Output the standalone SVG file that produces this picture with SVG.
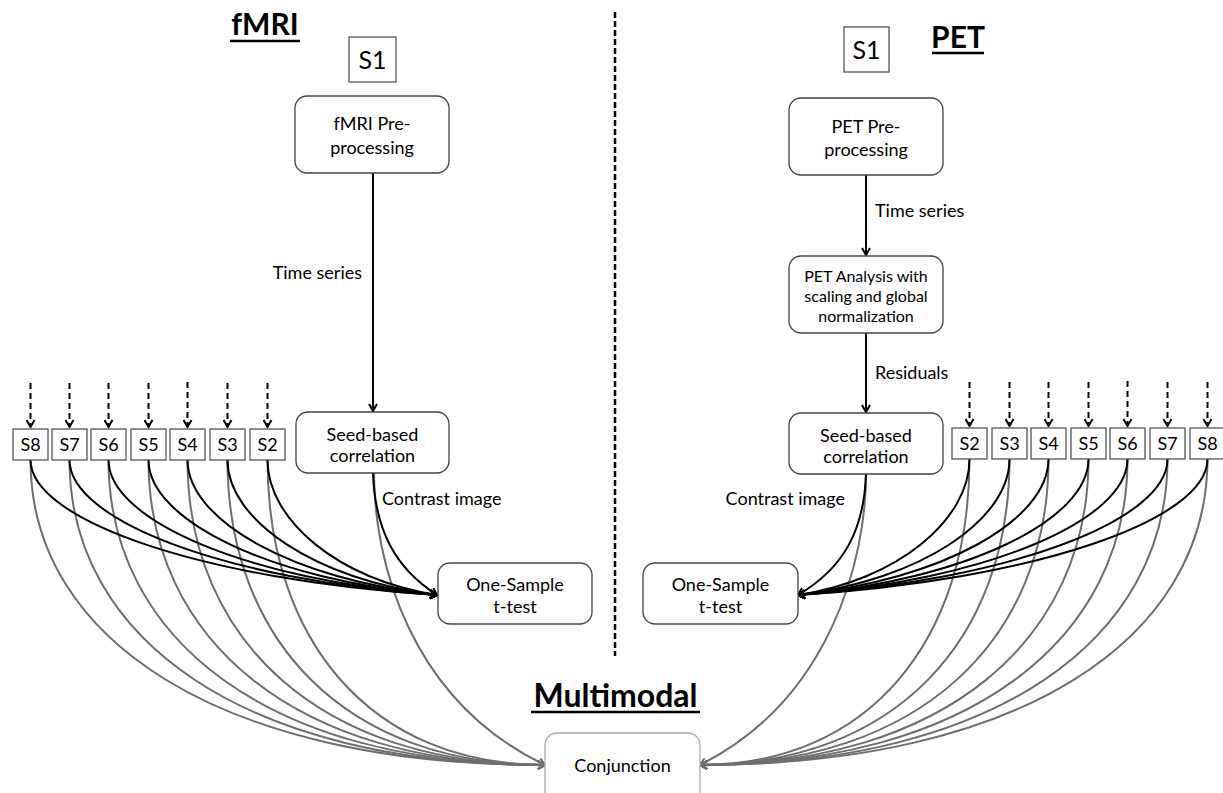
<svg xmlns="http://www.w3.org/2000/svg" width="1223" height="793" viewBox="0 0 1223 793">
<style>
text{font-family:Lato,"Open Sans","Liberation Sans",sans-serif;fill:#000}
.t{font-size:18px;text-anchor:middle}
.ts{font-size:16px;text-anchor:middle}
.lbl{font-size:18px}
.sub{font-size:18px;text-anchor:middle}
.big{font-size:25px;text-anchor:middle}
.title{font-weight:bold;text-anchor:middle}
.box{fill:#fff;stroke:#444;stroke-width:1.3}
.sq{fill:#fff;stroke:#555;stroke-width:1.3}
.blk{fill:none;stroke:#000;stroke-width:2}
.gry{fill:none;stroke:#6e6e6e;stroke-width:2}
.dsh{fill:none;stroke:#000;stroke-width:2;stroke-dasharray:6 4}
.ul{stroke:#000;stroke-width:2.5}
</style>
<defs>
<marker id="ab" viewBox="0 0 10 10" refX="9" refY="5" markerWidth="10" markerHeight="10" markerUnits="userSpaceOnUse" orient="auto"><path d="M2,1 L9,5 L2,9" fill="none" stroke="#000" stroke-width="2"/></marker>
<marker id="ag" viewBox="0 0 10 10" refX="9" refY="5" markerWidth="10" markerHeight="10" markerUnits="userSpaceOnUse" orient="auto"><path d="M2,1 L9,5 L2,9" fill="none" stroke="#6e6e6e" stroke-width="2"/></marker>
</defs>
<rect width="1223" height="793" fill="#fff"/>

<g id="titles">
<text class="title" x="265" y="35" font-size="30">fMRI</text>
<line class="ul" x1="230" y1="41" x2="300" y2="41"/>
<text class="title" x="958" y="48" font-size="30">PET</text>
<line class="ul" x1="932" y1="53" x2="984" y2="53"/>
<text class="title" x="615.5" y="707" font-size="32">Multimodal</text>
<line class="ul" x1="531" y1="712" x2="700" y2="712"/>
</g>

<line id="divider" x1="615" y1="12" x2="615" y2="656" stroke="#000" stroke-width="2.5" stroke-dasharray="6 3"/>

<g id="connectors">
<path class="gry" marker-end="url(#ag)" d="M30.5,460 C30.5,640 220.9,765 545,765"/>
<path class="gry" marker-end="url(#ag)" d="M69.5,460 C69.5,640 245.4,765 545,765"/>
<path class="gry" marker-end="url(#ag)" d="M108.5,460 C108.5,640 270,765 545,765"/>
<path class="gry" marker-end="url(#ag)" d="M148.5,460 C148.5,640 295.2,765 545,765"/>
<path class="gry" marker-end="url(#ag)" d="M187.5,460 C187.5,640 319.8,765 545,765"/>
<path class="gry" marker-end="url(#ag)" d="M227.5,460 C227.5,640 345,765 545,765"/>
<path class="gry" marker-end="url(#ag)" d="M267.5,460 C267.5,640 370.2,765 545,765"/>
<path class="gry" marker-end="url(#ag)" d="M374,473 C374,560 409,700 545,765"/>
<path class="gry" marker-end="url(#ag)" d="M969.5,459 C969.5,640 869.8,765 700,765"/>
<path class="gry" marker-end="url(#ag)" d="M1009.5,459 C1009.5,640 895,765 700,765"/>
<path class="gry" marker-end="url(#ag)" d="M1048.5,459 C1048.5,640 919.6,765 700,765"/>
<path class="gry" marker-end="url(#ag)" d="M1088.5,459 C1088.5,640 944.8,765 700,765"/>
<path class="gry" marker-end="url(#ag)" d="M1127.5,459 C1127.5,640 969.3,765 700,765"/>
<path class="gry" marker-end="url(#ag)" d="M1167.5,459 C1167.5,640 994.5,765 700,765"/>
<path class="gry" marker-end="url(#ag)" d="M1207.5,459 C1207.5,640 1019.7,765 700,765"/>
<path class="gry" marker-end="url(#ag)" d="M866,474 C866,560 830,700 700,765"/>
<path class="blk" marker-end="url(#ab)" d="M30.5,460 C30.5,520 201.2,580 437,595"/>
<path class="blk" marker-end="url(#ab)" d="M69.5,460 C69.5,520 223.9,580 437,595"/>
<path class="blk" marker-end="url(#ab)" d="M108.5,460 C108.5,520 246.5,580 437,595"/>
<path class="blk" marker-end="url(#ab)" d="M148.5,460 C148.5,520 269.7,580 437,595"/>
<path class="blk" marker-end="url(#ab)" d="M187.5,460 C187.5,520 292.3,580 437,595"/>
<path class="blk" marker-end="url(#ab)" d="M227.5,460 C227.5,520 315.5,580 437,595"/>
<path class="blk" marker-end="url(#ab)" d="M267.5,460 C267.5,520 338.7,580 437,595"/>
<path class="blk" marker-end="url(#ab)" d="M373,473 C375,530 395,568 437,595"/>
<path class="blk" marker-end="url(#ab)" d="M969.5,459 C969.5,520 897.5,580 798,595"/>
<path class="blk" marker-end="url(#ab)" d="M1009.5,459 C1009.5,520 920.7,580 798,595"/>
<path class="blk" marker-end="url(#ab)" d="M1048.5,459 C1048.5,520 943.3,580 798,595"/>
<path class="blk" marker-end="url(#ab)" d="M1088.5,459 C1088.5,520 966.5,580 798,595"/>
<path class="blk" marker-end="url(#ab)" d="M1127.5,459 C1127.5,520 989.1,580 798,595"/>
<path class="blk" marker-end="url(#ab)" d="M1167.5,459 C1167.5,520 1012.3,580 798,595"/>
<path class="blk" marker-end="url(#ab)" d="M1207.5,459 C1207.5,520 1035.5,580 798,595"/>
<path class="blk" marker-end="url(#ab)" d="M866,474 C864,530 844,568 798,595"/>
<path class="blk" marker-end="url(#ab)" d="M373,173 L373,411"/>
<path class="blk" marker-end="url(#ab)" d="M866,175 L866,255"/>
<path class="blk" marker-end="url(#ab)" d="M866,333 L866,412"/>
<path class="dsh" marker-end="url(#ab)" d="M30.5,383 L30.5,427"/>
<path class="dsh" marker-end="url(#ab)" d="M69.5,383 L69.5,427"/>
<path class="dsh" marker-end="url(#ab)" d="M108.5,383 L108.5,427"/>
<path class="dsh" marker-end="url(#ab)" d="M148.5,383 L148.5,427"/>
<path class="dsh" marker-end="url(#ab)" d="M187.5,382 L187.5,427"/>
<path class="dsh" marker-end="url(#ab)" d="M227.5,383 L227.5,427"/>
<path class="dsh" marker-end="url(#ab)" d="M267.5,383 L267.5,427"/>
<path class="dsh" marker-end="url(#ab)" d="M969.5,382 L969.5,426"/>
<path class="dsh" marker-end="url(#ab)" d="M1009.5,382 L1009.5,426"/>
<path class="dsh" marker-end="url(#ab)" d="M1048.5,382 L1048.5,426"/>
<path class="dsh" marker-end="url(#ab)" d="M1088.5,382 L1088.5,426"/>
<path class="dsh" marker-end="url(#ab)" d="M1127.5,381 L1127.5,426"/>
<path class="dsh" marker-end="url(#ab)" d="M1167.5,382 L1167.5,426"/>
<path class="dsh" marker-end="url(#ab)" d="M1207.5,382 L1207.5,426"/>
<text class="lbl" x="362" y="279" text-anchor="end">Time series</text>
<text class="lbl" x="382" y="505">Contrast image</text>
<text class="lbl" x="875" y="217">Time series</text>
<text class="lbl" x="875" y="379">Residuals</text>
<text class="lbl" x="845" y="505" text-anchor="end">Contrast image</text>
</g>

<g id="fmri-s1"><rect class="sq" x="349" y="37" width="47" height="45"/><text class="big" x="372.5" y="69">S1</text></g>
<g id="fmri-pre"><rect class="box" x="295" y="96" width="154" height="77" rx="12"/><text class="t" x="372" y="130">fMRI Pre-</text><text class="t" x="372" y="154">processing</text></g>
<g id="fmri-seed"><rect class="box" x="296" y="412" width="153" height="61" rx="12"/><text class="t" x="372.5" y="441">Seed-based</text><text class="t" x="372.5" y="462">correlation</text></g>
<g id="fmri-ttest"><rect class="box" x="438" y="563" width="154" height="61" rx="12"/><text class="t" x="515" y="591">One-Sample</text><text class="t" x="515" y="613">t-test</text></g>

<g id="fmri-s8"><rect class="sq" x="13" y="429" width="35" height="31"/><text class="sub" x="30.5" y="451">S8</text></g>
<g id="fmri-s7"><rect class="sq" x="52" y="429" width="35" height="31"/><text class="sub" x="69.5" y="451">S7</text></g>
<g id="fmri-s6"><rect class="sq" x="91" y="429" width="35" height="31"/><text class="sub" x="108.5" y="451">S6</text></g>
<g id="fmri-s5"><rect class="sq" x="131" y="429" width="35" height="31"/><text class="sub" x="148.5" y="451">S5</text></g>
<g id="fmri-s4"><rect class="sq" x="170" y="429" width="35" height="31"/><text class="sub" x="187.5" y="451">S4</text></g>
<g id="fmri-s3"><rect class="sq" x="210" y="429" width="35" height="31"/><text class="sub" x="227.5" y="451">S3</text></g>
<g id="fmri-s2"><rect class="sq" x="250" y="429" width="35" height="31"/><text class="sub" x="267.5" y="451">S2</text></g>

<g id="pet-s1"><rect class="sq" x="844" y="27" width="45" height="45"/><text class="big" x="866.5" y="59">S1</text></g>
<g id="pet-pre"><rect class="box" x="789" y="98" width="154" height="77" rx="12"/><text class="t" x="866" y="133">PET Pre-</text><text class="t" x="866" y="156">processing</text></g>
<g id="pet-analysis"><rect class="box" x="789" y="256" width="154" height="77" rx="12"/><text class="ts" x="866" y="282">PET Analysis with</text><text class="ts" x="866" y="302">scaling and global</text><text class="ts" x="866" y="322">normalization</text></g>
<g id="pet-seed"><rect class="box" x="789" y="413" width="154" height="61" rx="12"/><text class="t" x="866" y="442">Seed-based</text><text class="t" x="866" y="463">correlation</text></g>
<g id="pet-ttest"><rect class="box" x="643" y="563" width="155" height="61" rx="12"/><text class="t" x="720.5" y="591">One-Sample</text><text class="t" x="720.5" y="613">t-test</text></g>

<g id="pet-s2"><rect class="sq" x="952" y="428" width="35" height="31"/><text class="sub" x="969.5" y="450">S2</text></g>
<g id="pet-s3"><rect class="sq" x="992" y="428" width="35" height="31"/><text class="sub" x="1009.5" y="450">S3</text></g>
<g id="pet-s4"><rect class="sq" x="1031" y="428" width="35" height="31"/><text class="sub" x="1048.5" y="450">S4</text></g>
<g id="pet-s5"><rect class="sq" x="1071" y="428" width="35" height="31"/><text class="sub" x="1088.5" y="450">S5</text></g>
<g id="pet-s6"><rect class="sq" x="1110" y="428" width="35" height="31"/><text class="sub" x="1127.5" y="450">S6</text></g>
<g id="pet-s7"><rect class="sq" x="1150" y="428" width="35" height="31"/><text class="sub" x="1167.5" y="450">S7</text></g>
<g id="pet-s8"><rect class="sq" x="1190" y="428" width="35" height="31"/><text class="sub" x="1207.5" y="450">S8</text></g>

<g id="conjunction"><rect x="545" y="733" width="155" height="75" rx="12" fill="#fff" stroke="#aaa" stroke-width="1.3"/><text class="t" x="622.5" y="772">Conjunction</text></g>
</svg>
